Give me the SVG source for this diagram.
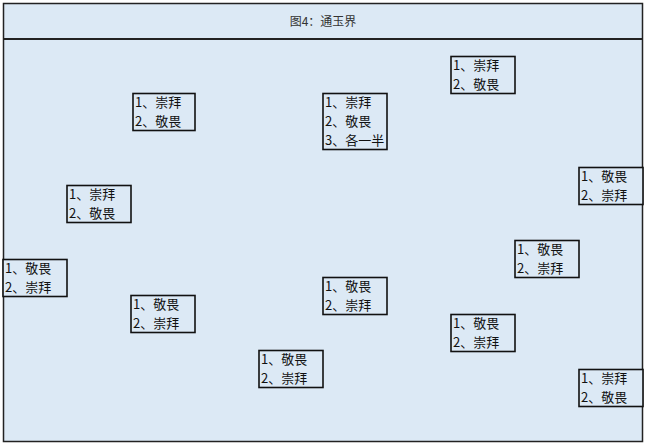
<svg xmlns="http://www.w3.org/2000/svg" width="647" height="446" viewBox="0 0 647 446">
<style>
.bg{fill:#dce9f5;stroke:#222;stroke-width:1.5}
.box{fill:#dce9f5;stroke:#111;stroke-width:1.6}
text{font-family:"Noto Sans CJK SC","Noto Sans CJK JP",sans-serif;font-size:13px;fill:#111}
.t{text-anchor:middle;fill:#333;font-size:12px}
</style>
<rect width="647" height="446" fill="#ffffff"/>
<g id="frame">
<rect class="bg" x="3.5" y="3.5" width="639" height="438"/>
<line x1="3.5" y1="39" x2="642.5" y2="39" stroke="#222" stroke-width="2"/>
<text class="t" x="323" y="26">图4：通玉界</text>
</g>
<g id="connectors"></g>
<g id="n1"><rect class="box" x="133" y="93.5" width="62" height="37"/><text x="135" y="107">1、崇拜</text><text x="135" y="126">2、敬畏</text></g>
<g id="n2"><rect class="box" x="323" y="93.5" width="64" height="56"/><text x="325" y="107">1、崇拜</text><text x="325" y="126">2、敬畏</text><text x="325" y="145">3、各一半</text></g>
<g id="n3"><rect class="box" x="451" y="56.5" width="64" height="37"/><text x="453" y="70">1、崇拜</text><text x="453" y="89">2、敬畏</text></g>
<g id="n4"><rect class="box" x="67" y="185.5" width="64" height="37"/><text x="69" y="199">1、崇拜</text><text x="69" y="218">2、敬畏</text></g>
<g id="n5"><rect class="box" x="579" y="167.5" width="64" height="37"/><text x="581" y="181">1、敬畏</text><text x="581" y="200">2、崇拜</text></g>
<g id="n6"><rect class="box" x="515" y="240.5" width="64" height="37"/><text x="517" y="254">1、敬畏</text><text x="517" y="273">2、崇拜</text></g>
<g id="n7"><rect class="box" x="3" y="259.5" width="64" height="37"/><text x="5" y="273">1、敬畏</text><text x="5" y="292">2、崇拜</text></g>
<g id="n8"><rect class="box" x="323" y="277.5" width="64" height="37"/><text x="325" y="291">1、敬畏</text><text x="325" y="310">2、崇拜</text></g>
<g id="n9"><rect class="box" x="131" y="295.5" width="64" height="37"/><text x="133" y="309">1、敬畏</text><text x="133" y="328">2、崇拜</text></g>
<g id="n10"><rect class="box" x="451" y="314.5" width="64" height="37"/><text x="453" y="328">1、敬畏</text><text x="453" y="347">2、崇拜</text></g>
<g id="n11"><rect class="box" x="259" y="350.5" width="64" height="37"/><text x="261" y="364">1、敬畏</text><text x="261" y="383">2、崇拜</text></g>
<g id="n12"><rect class="box" x="579" y="369.5" width="64" height="37"/><text x="581" y="383">1、崇拜</text><text x="581" y="402">2、敬畏</text></g>
</svg>
